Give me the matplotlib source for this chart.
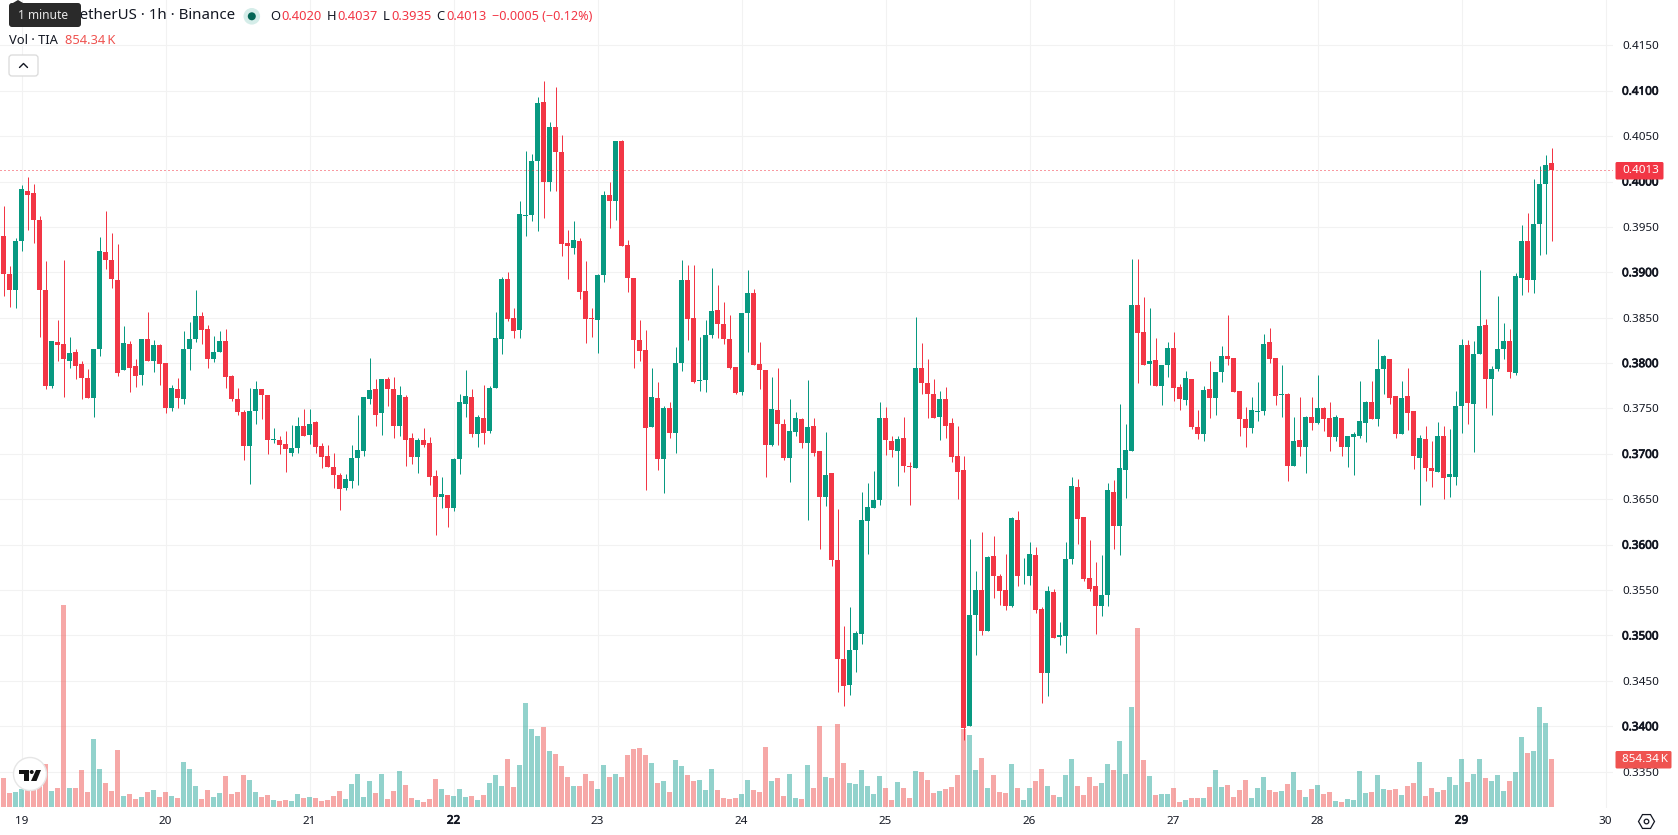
import numpy as np
import matplotlib
matplotlib.use("Agg")
import matplotlib.pyplot as plt
import matplotlib.patheffects as pe
from matplotlib.colors import to_rgba
from matplotlib.patches import Circle, FancyBboxPatch, Polygon, RegularPolygon

# hourly candles, prices in ten-thousandths
opens = [
    3940, 3898, 3881, 3935, 3990, 3987, 3958, 3880, 3775, 3823,
    3821, 3802, 3812, 3799, 3784, 3762, 3816, 3922, 3913, 3892,
    3792, 3821, 3797, 3787, 3827, 3802, 3820, 3800, 3751, 3772,
    3761, 3816, 3827, 3852, 3838, 3805, 3812, 3824, 3786, 3761,
    3746, 3709, 3747, 3771, 3765, 3715, 3715, 3711, 3701, 3706,
    3731, 3721, 3735, 3709, 3698, 3686, 3677, 3662, 3670, 3696,
    3703, 3761, 3771, 3745, 3782, 3772, 3731, 3763, 3717, 3697,
    3715, 3712, 3676, 3652, 3655, 3640, 3694, 3755, 3763, 3722,
    3740, 3725, 3773, 3827, 3893, 3850, 3837, 3962, 3963, 4023,
    4088, 3999, 4060, 4033, 3932, 3927, 3934, 3879, 3850, 3848,
    3897, 3985, 3978, 4045, 3930, 3894, 3825, 3814, 3730, 3762,
    3694, 3751, 3723, 3800, 3891, 3850, 3780, 3781, 3831, 3859,
    3843, 3826, 3796, 3768, 3855, 3877, 3799, 3792, 3710, 3748,
    3733, 3696, 3724, 3738, 3712, 3731, 3703, 3652, 3679, 3583,
    3474, 3445, 3484, 3502, 3626, 3640, 3649, 3740, 3714, 3703,
    3717, 3687, 3685, 3795, 3778, 3766, 3741, 3760, 3734, 3698,
    3682, 3400, 3523, 3550, 3505, 3587, 3566, 3550, 3532, 3627,
    3565, 3565, 3589, 3529, 3459, 3548, 3498, 3499, 3584, 3664,
    3630, 3563, 3554, 3533, 3545, 3658, 3621, 3682, 3703, 3864,
    3834, 3799, 3803, 3775, 3798, 3817, 3774, 3759, 3782, 3730,
    3722, 3771, 3762, 3790, 3808, 3806, 3769, 3738, 3729, 3746,
    3747, 3823, 3806, 3765, 3766, 3687, 3715, 3708, 3741, 3734,
    3751, 3740, 3719, 3740, 3708, 3719, 3720, 3734, 3757, 3738,
    3793, 3805, 3764, 3722, 3764, 3747, 3696, 3716, 3684, 3680,
    3720, 3674, 3675, 3753, 3820, 3755, 3810, 3842, 3783, 3793,
    3815, 3824, 3789, 3894, 3934, 3892, 3953, 3997, 4020,
]
highs = [
    3973, 3907, 3938, 3996, 4005, 3997, 3962, 3912, 3824, 3848,
    3914, 3829, 3816, 3802, 3794, 3816, 3939, 3968, 3943, 3931,
    3841, 3824, 3804, 3827, 3856, 3825, 3821, 3800, 3776, 3784,
    3835, 3845, 3880, 3856, 3842, 3830, 3835, 3838, 3787, 3773,
    3748, 3773, 3780, 3771, 3765, 3729, 3720, 3725, 3732, 3741,
    3749, 3749, 3736, 3712, 3710, 3701, 3679, 3678, 3710, 3743,
    3763, 3806, 3783, 3783, 3785, 3785, 3775, 3765, 3723, 3717,
    3728, 3719, 3682, 3674, 3655, 3696, 3766, 3792, 3772, 3743,
    3776, 3775, 3856, 3895, 3900, 3861, 3978, 4034, 4030, 4093,
    4111, 4066, 4104, 4051, 3947, 3956, 3938, 3912, 3861, 3898,
    3990, 3999, 4045, 4046, 3936, 3894, 3847, 3836, 3795, 3779,
    3753, 3757, 3818, 3914, 3908, 3908, 3829, 3847, 3905, 3886,
    3867, 3853, 3796, 3855, 3902, 3882, 3823, 3792, 3785, 3795,
    3738, 3760, 3746, 3739, 3781, 3739, 3703, 3724, 3679, 3639,
    3510, 3531, 3505, 3658, 3668, 3681, 3757, 3752, 3720, 3720,
    3741, 3691, 3851, 3822, 3804, 3783, 3769, 3774, 3740, 3731,
    3698, 3606, 3571, 3614, 3587, 3610, 3568, 3590, 3630, 3637,
    3585, 3603, 3597, 3531, 3554, 3551, 3515, 3603, 3674, 3672,
    3631, 3605, 3581, 3589, 3668, 3671, 3755, 3733, 3915, 3915,
    3873, 3861, 3828, 3798, 3823, 3834, 3777, 3791, 3782, 3748,
    3775, 3802, 3790, 3819, 3853, 3806, 3769, 3752, 3763, 3779,
    3832, 3839, 3806, 3798, 3767, 3741, 3763, 3742, 3763, 3787,
    3752, 3757, 3743, 3740, 3720, 3724, 3780, 3758, 3780, 3826,
    3809, 3805, 3764, 3780, 3795, 3747, 3721, 3731, 3714, 3735,
    3731, 3727, 3769, 3827, 3825, 3824, 3903, 3849, 3797, 3874,
    3844, 3838, 3899, 3952, 3965, 4003, 4017, 4029, 4037,
]
lows = [
    3874, 3862, 3861, 3923, 3947, 3932, 3829, 3771, 3773, 3802,
    3763, 3795, 3783, 3760, 3762, 3741, 3808, 3904, 3883, 3786,
    3792, 3768, 3774, 3776, 3802, 3790, 3776, 3745, 3747, 3750,
    3755, 3792, 3823, 3821, 3795, 3801, 3812, 3773, 3758, 3743,
    3693, 3667, 3733, 3738, 3700, 3712, 3700, 3680, 3698, 3701,
    3720, 3711, 3701, 3685, 3686, 3662, 3638, 3660, 3662, 3666,
    3698, 3755, 3731, 3721, 3753, 3717, 3720, 3687, 3689, 3679,
    3708, 3666, 3611, 3640, 3619, 3637, 3678, 3741, 3719, 3708,
    3711, 3723, 3773, 3810, 3846, 3828, 3828, 3940, 3956, 3946,
    3960, 3990, 3990, 3918, 3893, 3920, 3871, 3822, 3829, 3811,
    3889, 3949, 3958, 3929, 3878, 3795, 3802, 3660, 3730, 3682,
    3657, 3717, 3701, 3791, 3825, 3778, 3769, 3768, 3828, 3828,
    3821, 3794, 3766, 3765, 3812, 3798, 3772, 3675, 3709, 3710,
    3693, 3669, 3720, 3707, 3627, 3698, 3595, 3643, 3577, 3438,
    3422, 3434, 3460, 3491, 3590, 3640, 3644, 3699, 3697, 3665,
    3680, 3644, 3684, 3766, 3739, 3740, 3715, 3717, 3691, 3650,
    3385, 3400, 3478, 3501, 3505, 3541, 3534, 3528, 3531, 3554,
    3557, 3556, 3525, 3426, 3433, 3497, 3490, 3481, 3579, 3601,
    3560, 3549, 3502, 3521, 3532, 3595, 3589, 3651, 3703, 3778,
    3798, 3776, 3775, 3754, 3785, 3758, 3748, 3754, 3727, 3716,
    3714, 3740, 3743, 3779, 3798, 3768, 3720, 3708, 3723, 3736,
    3743, 3800, 3754, 3741, 3670, 3687, 3698, 3679, 3726, 3733,
    3725, 3703, 3714, 3698, 3686, 3677, 3718, 3713, 3738, 3731,
    3766, 3755, 3718, 3722, 3726, 3683, 3644, 3670, 3664, 3680,
    3650, 3653, 3666, 3723, 3733, 3702, 3810, 3751, 3743, 3791,
    3804, 3784, 3787, 3875, 3878, 3877, 3919, 3920, 3935,
]
closes = [
    3898, 3881, 3934, 3992, 3985, 3958, 3881, 3775, 3824, 3820,
    3804, 3811, 3797, 3784, 3762, 3815, 3923, 3914, 3893, 3789,
    3822, 3795, 3786, 3826, 3802, 3820, 3799, 3751, 3773, 3762,
    3816, 3827, 3852, 3837, 3805, 3812, 3824, 3785, 3760, 3746,
    3709, 3747, 3771, 3765, 3715, 3716, 3710, 3705, 3707, 3731,
    3720, 3733, 3708, 3697, 3686, 3677, 3661, 3672, 3696, 3704,
    3763, 3770, 3743, 3783, 3771, 3731, 3765, 3715, 3697, 3715,
    3710, 3675, 3652, 3656, 3640, 3694, 3757, 3764, 3722, 3741,
    3723, 3773, 3828, 3893, 3849, 3835, 3964, 3963, 4023, 4087,
    3999, 4060, 4032, 3931, 3929, 3936, 3878, 3849, 3849, 3897,
    3985, 3978, 4045, 3929, 3894, 3825, 3813, 3729, 3763, 3694,
    3750, 3723, 3800, 3891, 3849, 3779, 3781, 3831, 3857, 3843,
    3826, 3795, 3767, 3855, 3877, 3798, 3792, 3710, 3749, 3733,
    3696, 3725, 3739, 3712, 3730, 3701, 3653, 3677, 3583, 3474,
    3444, 3484, 3503, 3627, 3642, 3649, 3740, 3715, 3704, 3716,
    3687, 3686, 3795, 3778, 3766, 3740, 3761, 3731, 3697, 3680,
    3398, 3523, 3550, 3505, 3586, 3566, 3549, 3532, 3629, 3565,
    3566, 3590, 3528, 3459, 3549, 3497, 3501, 3584, 3665, 3628,
    3562, 3551, 3533, 3545, 3660, 3621, 3684, 3704, 3864, 3833,
    3798, 3802, 3775, 3798, 3817, 3773, 3760, 3784, 3730, 3722,
    3770, 3762, 3790, 3808, 3805, 3768, 3738, 3729, 3748, 3747,
    3821, 3805, 3764, 3766, 3687, 3714, 3708, 3741, 3734, 3751,
    3738, 3719, 3741, 3708, 3720, 3722, 3736, 3757, 3738, 3794,
    3808, 3762, 3722, 3762, 3745, 3698, 3717, 3684, 3681, 3720,
    3673, 3678, 3753, 3820, 3756, 3810, 3841, 3782, 3794, 3815,
    3824, 3790, 3896, 3934, 3891, 3953, 3997, 4018, 4013,
]
# volume in thousands of TIA
volumes = [
    516, 249, 267, 326, 297, 297, 415, 765, 285, 338,
    3595, 338, 338, 659, 267, 1210, 676, 427, 285, 1015,
    196, 231, 142, 178, 267, 303, 178, 267, 196, 160,
    801, 676, 374, 142, 303, 178, 249, 552, 231, 267,
    570, 481, 267, 178, 214, 125, 107, 125, 107, 231,
    160, 178, 160, 107, 125, 196, 285, 142, 409, 587,
    178, 463, 249, 587, 142, 285, 641, 392, 160, 125,
    89, 142, 498, 320, 214, 196, 320, 178, 196, 125,
    214, 427, 570, 374, 854, 356, 748, 1851, 1388, 1264,
    1424, 997, 943, 730, 534, 374, 374, 587, 463, 320,
    748, 534, 587, 534, 926, 1032, 1050, 926, 783, 427,
    463, 267, 837, 730, 570, 463, 481, 303, 676, 303,
    160, 142, 160, 231, 481, 303, 267, 1068, 463, 516,
    196, 587, 160, 142, 748, 338, 1442, 534, 516, 1477,
    783, 427, 409, 659, 374, 231, 552, 338, 125, 445,
    338, 160, 641, 623, 481, 249, 285, 320, 356, 570,
    1388, 1282, 659, 872, 338, 570, 267, 249, 765, 338,
    125, 338, 463, 676, 374, 214, 178, 570, 854, 374,
    214, 534, 374, 427, 765, 659, 1175, 587, 1780, 3186,
    837, 552, 214, 231, 231, 338, 89, 125, 160, 160,
    160, 356, 659, 356, 392, 178, 303, 481, 160, 338,
    534, 303, 267, 285, 409, 623, 303, 178, 320, 392,
    231, 267, 107, 89, 142, 125, 641, 249, 267, 570,
    320, 303, 320, 214, 374, 427, 801, 196, 338, 267,
    303, 534, 392, 854, 445, 587, 854, 516, 463, 570,
    285, 463, 623, 1246, 961, 997, 1780, 1495, 854.34,
]

price_ticks = [0.3350, 0.3400, 0.3450, 0.3500, 0.3550, 0.3600, 0.3650, 0.3700, 0.3750,
               0.3800, 0.3850, 0.3900, 0.3950, 0.4000, 0.4050, 0.4100, 0.4150]
day_labels = ["19", "20", "21", "22", "23", "24", "25", "26", "27", "28", "29", "30"]
bold_days = ["22", "29"]

UP = "#089981"
DOWN = "#F23645"
VOL_UP = to_rgba("#26A69A", 0.5)
VOL_DOWN = to_rgba("#EF5350", 0.5)
INK = "#131722"
GRID = "#F2F2F2"

plt.rcParams["font.family"] = ["Noto Sans", "DejaVu Sans"]

W, H = 1678, 835
PLOT_W, PLOT_H = 1613, 808
fig = plt.figure(figsize=(W / 100, H / 100), dpi=100, facecolor="white")
rect = [0, 1 - PLOT_H / H, PLOT_W / W, PLOT_H / H]

o = np.array(opens) / 10000
h = np.array(highs) / 10000
l = np.array(lows) / 10000
c = np.array(closes) / 10000
v = np.array(volumes, dtype=float)
x = np.arange(len(o))
rising = c >= o

xlim = (-3.5 / 6, (PLOT_W - 3.5) / 6)
ylim = (0.3310, 0.41999)

# grid and tick labels sit underneath, then volume, then candles
ax = fig.add_axes(rect, zorder=1)
ax.set_xlim(xlim)
ax.set_ylim(ylim)
for side in ax.spines.values():
    side.set_visible(False)
ax.yaxis.tick_right()
ax.set_yticks(price_ticks)
ax.set_yticklabels([f"{t:.4f}" for t in price_ticks])
ax.set_xticks(3 + 24 * np.arange(len(day_labels)))
ax.set_xticklabels(day_labels)
ax.grid(True, color=GRID, lw=0.8)
ax.set_axisbelow(True)
ax.tick_params(axis="y", length=0, pad=6.5, labelsize=8.4, labelcolor=INK)
ax.tick_params(axis="x", length=0, pad=5.5, labelsize=8.4, labelcolor=INK)

# the round values on both scales are heavier; a thin stroke thickens the regular cut
heavy = [pe.withStroke(linewidth=0.55, foreground=INK)]
for t, lab in zip(price_ticks, ax.get_yticklabels()):
    if round(t * 10000) % 100 == 0:
        lab.set_path_effects(heavy)
for lab in ax.get_xticklabels():
    if lab.get_text() in bold_days:
        lab.set_path_effects(heavy)

ax_vol = fig.add_axes(rect, zorder=2, sharex=ax)
ax_vol.axis("off")
ax_vol.bar(x, v, width=5 / 6, color=[VOL_UP if r else VOL_DOWN for r in rising], linewidth=0)
ax_vol.set_xlim(xlim)
ax_vol.set_ylim(-17.8, 14365)

ax_price = fig.add_axes(rect, zorder=3, sharex=ax, sharey=ax)
ax_price.axis("off")
colors = [UP if r else DOWN for r in rising]
ax_price.vlines(x, l, h, colors=colors, lw=0.72)
ax_price.bar(x, np.abs(c - o), bottom=np.minimum(o, c), width=5 / 6, color=colors, linewidth=0)
ax_price.axhline(c[-1], color=DOWN, lw=0.72, ls=(0, (1, 3)))
ax_price.set_xlim(xlim)
ax_price.set_ylim(ylim)

# header, tags and small icons are laid out in pixels
ui = fig.add_axes([0, 0, 1, 1], zorder=10)
ui.set_xlim(0, W)
ui.set_ylim(H, 0)
ui.axis("off")


def label(px, py, s, size=9.3, color=INK, ha="left", **kw):
    ui.text(px, py, s, fontsize=size, color=color, ha=ha, va="center", **kw)


label(235, 15.5, "TIA / TetherUS · 1h · Binance", size=10.8, ha="right")
ui.add_patch(Circle((251.8, 16.3), 8.3, color="#D5EDE9", lw=0))
ui.add_patch(Circle((251.8, 16.3), 4, color="#056656", lw=0))

down_text = "#F23645"
label(270, 16, "O", size=9.3)
label(281, 16, f"{o[-1]:.4f}", color=down_text)
label(327, 16, "H", size=9.3)
label(337, 16, f"{h[-1]:.4f}", color=down_text)
label(383, 16, "L", size=9.3)
label(391, 16, f"{l[-1]:.4f}", color=down_text)
label(436, 16, "C", size=9.3)
label(446, 16, f"{c[-1]:.4f}", color=down_text)
label(492, 16, "−0.0005 (−0.12%)", color=down_text, size=9.1)

label(9, 40, "Vol · TIA")
label(65, 40, "854.34\u2009K", color="#EF5350")

ui.add_patch(FancyBboxPatch((11, 57), 25, 17, boxstyle="round,pad=2,rounding_size=3",
                            fc="white", ec="#DADADA", lw=0.9))
ui.plot([19.5, 23.5, 27.5], [67.5, 63.5, 67.5], color=INK, lw=1, solid_capstyle="round")

# interval tooltip lying over the start of the title
ui.add_patch(Polygon([[12, 3.5], [18, 0], [24, 3.5]], fc="#2A2A2A", lw=0))
ui.add_patch(FancyBboxPatch((11, 5), 68, 20, boxstyle="round,pad=2,rounding_size=3",
                            fc="#2A2A2A", ec="none", zorder=3))
ui.text(43.5, 15.5, "1 minute", fontsize=8.6, color="#E8E8E8", ha="center", va="center", zorder=4)

# last price and last volume tags on the scale
ui.add_patch(FancyBboxPatch((1616, 162.5), 47, 16.5, boxstyle="round,pad=0.5,rounding_size=1.5",
                            fc=DOWN, ec="none"))
label(1622, 170.3, f"{c[-1]:.4f}", size=8.4, color="white")
ui.add_patch(FancyBboxPatch((1616, 751.5), 55, 16.5, boxstyle="round,pad=0.5,rounding_size=1.5",
                            fc="#EF5350", ec="none"))
label(1622, 759.5, "854.34\u2009K", size=8.4, color="white")

# logo badge
ui.add_patch(Circle((30, 774), 16.5, fc="white", ec="#E6E6E6", lw=1))
ui.add_patch(Polygon([[18.7, 770], [28.5, 770], [28.5, 781], [23.6, 781], [23.6, 774], [18.7, 774]],
                     fc="#131313", lw=0))
ui.add_patch(Circle((31.7, 772), 2, fc="#131313", lw=0))
ui.add_patch(Polygon([[36, 770], [41, 770], [36.5, 781], [31, 781]], fc="#131313", lw=0))

# settings icon at the corner of the scales
ui.add_patch(RegularPolygon((1646.5, 821.5), 6, radius=8, orientation=np.pi / 2,
                            fc="white", ec=INK, lw=0.9))
ui.add_patch(Circle((1646.5, 821.5), 2.3, fc="white", ec=INK, lw=0.9))

fig.savefig("out.png", dpi=100)
